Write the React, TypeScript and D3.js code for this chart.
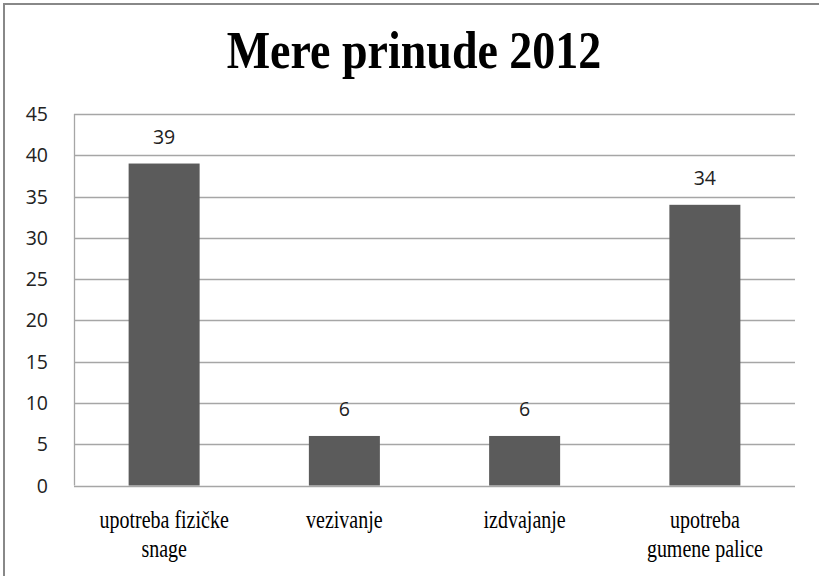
import React from "react";
import * as d3 from "d3";

const categories: string[][] = [
  ["upotreba fizičke", "snage"],
  ["vezivanje"],
  ["izdvajanje"],
  ["upotreba", "gumene palice"],
];
const values: number[] = [39, 6, 6, 34];
const yTicks: number[] = [0, 5, 10, 15, 20, 25, 30, 35, 40, 45];
const title = "Mere prinude 2012";

const W = 819;
const H = 576;
const plot = { left: 74, right: 795, top: 114, bottom: 485.5 };

export default function App() {
  const y = d3.scaleLinear().domain([0, 45]).range([plot.bottom, plot.top]);
  const x = d3
    .scaleBand<number>()
    .domain(d3.range(values.length))
    .range([plot.left, plot.right]);
  const bw = 71;

  return (
    <svg
      width={W}
      height={H}
      style={{ position: "absolute", left: 0, top: 0, background: "#fff" }}
    >
      <rect x={0} y={0} width={W} height={H} fill="#fff" />
      <rect x={4} y={4} width={W + 20} height={H + 20} fill="none" stroke="#888" strokeWidth={2} />
      <text
        transform="translate(414,68) scale(1,1.15)"
        textAnchor="middle"
        style={{ fontFamily: "Liberation Serif, Times New Roman, serif", fontWeight: 700, fontSize: 46 }}
        fill="#000"
      >
        {title}
      </text>
      {yTicks.map((t) => (
        <line
          key={t}
          x1={plot.left}
          x2={plot.right}
          y1={Math.round(y(t)) + 0.5}
          y2={Math.round(y(t)) + 0.5}
          stroke="#a6a6a6"
          strokeWidth={1.3}
        />
      ))}
      <line
        x1={plot.left + 0.5}
        x2={plot.left + 0.5}
        y1={plot.top}
        y2={plot.bottom}
        stroke="#a6a6a6"
        strokeWidth={1.3}
      />
      {yTicks.map((t) => (
        <text
          key={"l" + t}
          x={48}
          y={y(t)}
          dy="0.36em"
          textAnchor="end"
          style={{ fontFamily: "Open Sans, sans-serif", fontSize: 19.5 }}
          fill="#222"
        >
          {t}
        </text>
      ))}
      {values.map((v, i) => {
        const cx = (x(i) as number) + x.bandwidth() / 2;
        return (
          <g key={i}>
            <rect x={cx - bw / 2} y={y(v)} width={bw} height={y(0) - y(v)} fill="#5b5b5b" />
            <text
              x={cx}
              y={y(v) - 19.5}
              textAnchor="middle"
              style={{ fontFamily: "Open Sans, sans-serif", fontSize: 19.5 }}
              fill="#222"
            >
              {v}
            </text>
            {categories[i].map((line, j) => (
              <text
                key={j}
                transform={`translate(${cx},${528 + j * 29}) scale(1,1.25)`}
                textAnchor="middle"
                style={{ fontFamily: "Liberation Serif, Times New Roman, serif", fontWeight: 400, fontSize: 20 }}
                fill="#000"
              >
                {line}
              </text>
            ))}
          </g>
        );
      })}
    </svg>
  );
}
